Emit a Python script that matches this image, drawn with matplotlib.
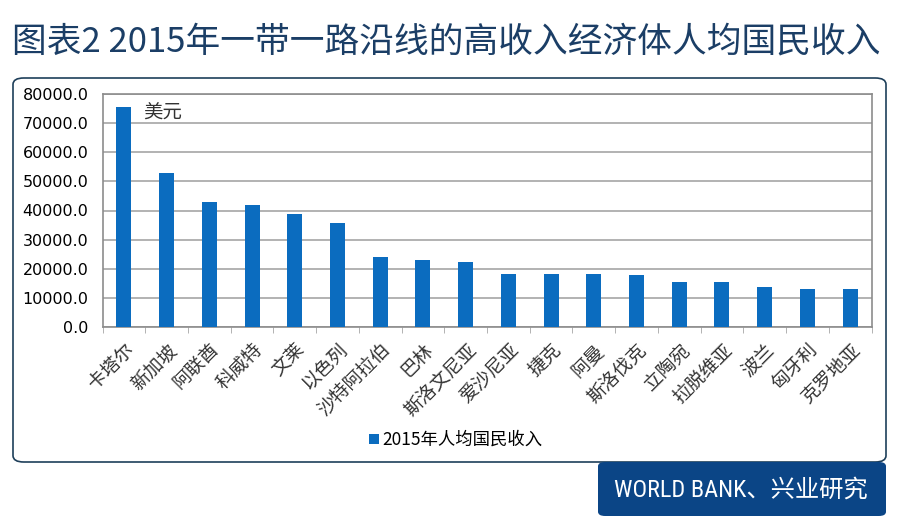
import matplotlib.pyplot as plt
from matplotlib.patches import FancyBboxPatch
import numpy as np

plt.rcParams['font.family'] = ['Noto Sans CJK SC', 'DejaVu Sans']

countries = ['卡塔尔', '新加坡', '阿联酋', '科威特', '文莱', '以色列', '沙特阿拉伯', '巴林',
             '斯洛文尼亚', '爱沙尼亚', '捷克', '阿曼', '斯洛伐克', '立陶宛', '拉脱维亚',
             '波兰', '匈牙利', '克罗地亚']
gni = [75600, 52900, 42900, 41800, 38700, 35800, 24100, 22900,
       22300, 18300, 18300, 18200, 17700, 15300, 15300, 13600, 12900, 12900]
yticks = [0, 10000, 20000, 30000, 40000, 50000, 60000, 70000, 80000]
legend_label = '2015年人均国民收入'
title = '图表2 2015年一带一路沿线的高收入经济体人均国民收入'
source = 'WORLD BANK、兴业研究'

W, H = 900, 532
fig = plt.figure(figsize=(W / 100, H / 100), dpi=100)
fig.patch.set_facecolor('white')

# outer rounded frame
frame = FancyBboxPatch((13 / W, (H - 462) / H), 873 / W, 384 / H,
                       boxstyle='round,pad=0,rounding_size=0.012',
                       transform=fig.transFigure, facecolor='white',
                       edgecolor='#1e3f5a', linewidth=1.2, zorder=-2)
fig.patches.append(frame)

# source box
src = FancyBboxPatch((598 / W, (H - 516) / H), 288 / W, 54 / H,
                     boxstyle='round,pad=0,rounding_size=0.008',
                     transform=fig.transFigure, facecolor='#0b4586',
                     edgecolor='none', zorder=-1)
fig.patches.append(src)
fig.text(741 / W, 1 - 490 / H, source, color='white', fontsize=17.5,
         ha='center', va='center', family=['Roboto Condensed', 'Roboto', 'Noto Sans CJK SC'])

fig.text(12 / W, 1 - 42 / H, title, color='#1b3e66', fontsize=25,
         ha='left', va='center')

ax = fig.add_axes([102.5 / W, 1 - 327 / H, 769 / W, 233 / H])
ax.patch.set_alpha(0)
x = np.arange(len(countries))
ax.bar(x, gni, width=0.35, color='#0b6cbf', zorder=3, label=legend_label)
ax.set_xlim(-0.5, len(countries) - 0.5)
ax.set_ylim(0, 80000)
ax.set_yticks(yticks)
ax.set_yticklabels([f'{v:.1f}' for v in yticks], family='DejaVu Sans', fontsize=11.5)
ax.yaxis.grid(True, color='#a6a6a6', linewidth=1.2, zorder=0)
ax.tick_params(axis='y', length=0, pad=10)
ax.set_xticks(x)
ax.set_xticklabels(countries, rotation=45, ha='right', rotation_mode='anchor',
                   fontsize=13.5, color='#333333')
ax.tick_params(axis='x', length=0, pad=9)
ax.set_xticks(np.arange(len(countries) + 1) - 0.5, minor=True)
ax.tick_params(axis='x', which='minor', length=4, color='#a6a6a6')
for s in ax.spines.values():
    s.set_color('#8c8c8c')
    s.set_linewidth(1.2)

ax.text(0.45, 73500, '美元', fontsize=14, color='#333333', ha='left', va='center')

leg = fig.legend(loc='center', bbox_to_anchor=(456 / W, 1 - 440 / H), frameon=False,
                 fontsize=12.5, handlelength=0.55, handleheight=0.55, handletextpad=0.2)

fig.savefig('out.png', dpi=100, facecolor='white')
